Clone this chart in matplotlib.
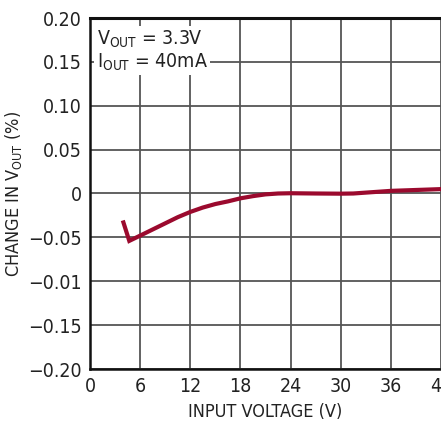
import matplotlib
matplotlib.use("Agg")
import matplotlib.pyplot as plt

plt.rcParams['font.family'] = ['DejaVu Sans']
plt.rcParams['font.stretch'] = 'condensed'

# input voltage (V) and change in Vout (%)
vin = [4.0, 4.7, 6, 7.5, 9, 10.5, 12, 13.5, 15, 16.5, 18, 19.5, 21, 22.5, 24,
       27, 30, 31.5, 33, 34.5, 36, 39, 42]
dvout = [-0.033, -0.054, -0.048, -0.041, -0.034, -0.027, -0.021, -0.016, -0.012,
         -0.009, -0.0055, -0.003, -0.001, 0.0, 0.0003, 0.0, -0.0002, 0.0, 0.001,
         0.002, 0.003, 0.004, 0.005]

xticks = [0, 6, 12, 18, 24, 30, 36, 42]
yticks = [0.20, 0.15, 0.10, 0.05, 0, -0.05, -0.10, -0.15, -0.20]
ylabels = ['0.20', '0.15', '0.10', '0.05', '0', '\u22120.05', '\u22120.01', '\u22120.15', '\u22120.20']

fig = plt.figure(figsize=(4.41, 4.23), dpi=100)
ax = fig.add_axes([90/441, 54/423, 351/441, 351/423])

ax.plot(vin, dvout, color='#9b0a2e', lw=3, solid_joinstyle='miter', zorder=3)

ax.set_xlim(0, 42)
ax.set_ylim(-0.20, 0.20)
ax.set_xticks(xticks)
ax.set_xticklabels([str(t) for t in xticks])
ax.set_yticks(yticks)
ax.set_yticklabels(ylabels)
ax.tick_params(length=0, labelsize=14, pad=6, colors='#222222')
ax.grid(True, color='#555555', lw=1.3)
ax.set_axisbelow(True)

for s in ['left', 'bottom']:
    ax.spines[s].set_linewidth(1.8)
    ax.spines[s].set_color('#111111')
ax.spines['top'].set_linewidth(2.2)
ax.spines['top'].set_color('#111111')
ax.spines['right'].set_visible(False)

ax.set_xlabel('INPUT VOLTAGE (V)', fontsize=13, color='#222222', labelpad=5)
ax.set_ylabel(r'CHANGE IN $\mathregular{V_{OUT}}$ (%)', fontsize=13, color='#222222', labelpad=3)

ax.text(0.8, 0.188, r'$\mathregular{V_{OUT}}$ = 3.3V' + '\n' + r'$\mathregular{I_{OUT}}$ = 40mA',
        fontsize=14, color='#222222', va='top', ha='left', linespacing=1.1,
        bbox=dict(facecolor='white', edgecolor='none', pad=2), zorder=4)

fig.savefig('out.png', dpi=100)
